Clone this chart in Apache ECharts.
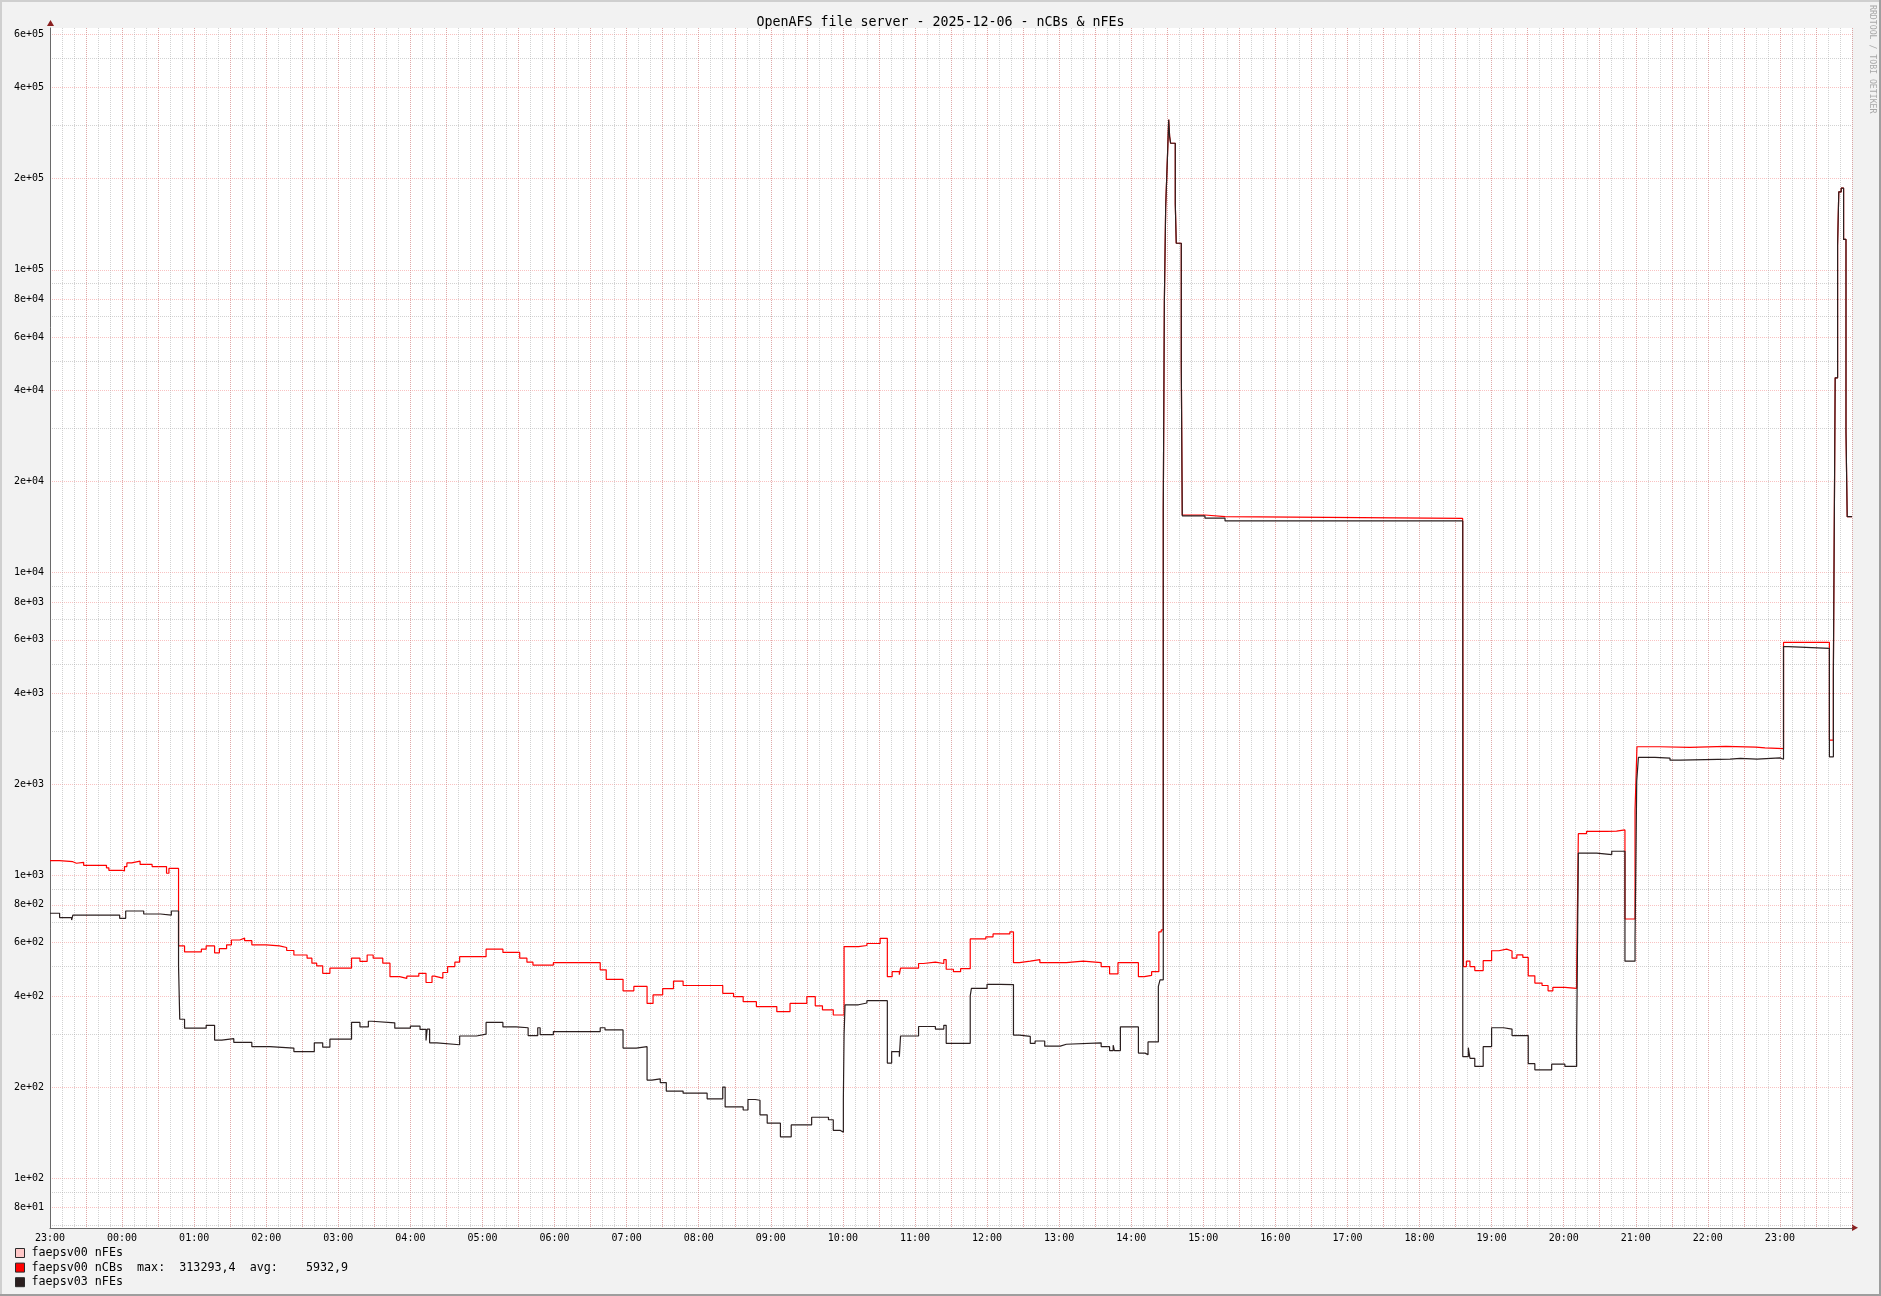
<!DOCTYPE html>
<html><head><meta charset="utf-8">
<script src="https://cdn.jsdelivr.net/npm/echarts@6/dist/echarts.min.js"></script>
<style>html,body{margin:0;padding:0;background:#f2f2f2}#c{width:1881px;height:1296px}</style>
</head><body><div id="c"></div>
<script>
const titleText = 'OpenAFS file server - 2025-12-06 - nCBs & nFEs';
const seriesNames = ['faepsv00 nFEs', 'faepsv00 nCBs', 'faepsv03 nFEs'];
const legendTexts = ['faepsv00 nFEs', 'faepsv00 nCBs  max:  313293,4  avg:    5932,9', 'faepsv03 nFEs'];
const seriesColors = ['#ffc8c8', '#ff0000', '#2b1f1f'];
const startHour = 23;           // x = minutes after 23:00 of the previous day
const xMax = 1500;
const yMin = 68.5, yMax = 629000;
const yMajor = [80, 100, 200, 400, 600, 800, 1000, 2000, 4000, 6000, 8000, 10000, 20000, 40000, 60000, 80000, 100000, 200000, 400000, 600000];
const yMinor = [70, 90, 300, 500, 700, 900, 3000, 5000, 7000, 9000, 30000, 50000, 70000, 90000, 300000, 500000];

// faepsv00 nFEs : no visible data
const fe00T = [];
const fe00V = [];

// faepsv00 nCBs
const cbT = [0,8,19,22,28,47,49,60,62,64,
68,75,85,97,99,107,112,126,130,137,
141,147,151,158,162,168,180,191,197,203,
214,218,222,227,233,251,258,264,269,277,
283,291,297,307,313,318,320,327,331,337,
341,363,377,391,397,402,419,458,463,477,
486,497,502,510,519,527,560,569,577,588,
605,616,630,637,643,652,661,673,680,691,
697,701,707,708,723,727,737,744,746,752,
758,766,779,785,799,802,807,816,824,846,
860,875,882,889,906,911,917,923,925,926.7,
927.6,928.7,930.3,931.2,932,932.8,936.7,937.5,941.7,942.5,
961.4,978.1,1175.9,1176.6,1179,1182,1186,1193,1200,1206,
1212.5,1217,1221,1226,1230.5,1236,1242,1247,1251,1261,
1270.8,1272.2,1279,1296,1304,1311,1319.4,1321,1340,1365,
1395,1420,1427.6,1443,1481.2,1484.5,1486,1488,1489,1491,
1493,1495,1496,1500];
const cbV = [1120,1110,1097,1105,1080,1060,1040,1035,1070,1100,
1115,1087,1070,1017,1055,585,559,571,585,555,
573,590,612,621,609,590,585,578,565,546,
533,513,503,475,494,533,520,546,533,513,
463,457,465,475,443,465,458,478,500,517,
539,571,557,533,517,506,515,488,454,416,
430,378,403,423,448,433,408,398,383,369,
355,378,398,371,360,346,582,587,596,620,
463,481,470,494,512,517,512,527,490,481,
492,617,627,641,651,515,521,527,515,521,
515,500,473,515,463,468,481,651,661,16100,
78500,161700,243800,313293,275400,261800,165100,122400,47900,15500,
15300,15100,13100,500,521,500,485,523,564,571,
563,533,547,536,466,441,433,416,427,424,
474,1374,1398,1400,1414,718,1646,2661,2650,2670,
2655,2640,2623,5880,2800,4800,44000,120000,181000,186000,
126000,29200,15300,15300];

// faepsv03 nFEs
const fe03T = [0,8,18,19,58,63,78,92,101,107,
108,112,130,137,143,153,168,183,203,220,
227,233,251,258,265,268,287,300,308,313,
314,316,322,341,355,363,377,388,398,406,
408,419,458,462,477,488,497,501,508,513,
527,547,560,562,577,581,587,591,597,608,
617,634,648,652,657.6,660.4,661,661.8,673,680,
697,700.6,707,708,723,737,744,746,759,760,
766,767,780,791,802,807,816,820,828,841,
846,875,882,885,886,891,906,911.5,914,922.6,
924,926.7,927.6,928.7,930.3,931.2,932,932.8,936.7,937.5,
941.7,942.5,961.4,978.1,1176,1180.6,1182,1186,1193,1200,
1210,1217,1230.5,1236,1250,1261,1270.8,1272.2,1287.5,1300,
1311,1319.4,1320.8,1322.2,1336,1348.5,1357,1398.5,1407,1421,
1440,1443,1447,1481.2,1484.5,1486,1488,1489,1491,1493,
1495,1496,1500];
const fe03V = [750,726,712,739,722,763,746,739,763,502,
335,313,320,286,289,281,272,269,262,280,
271,288,327,316,330,326,313,318,310,285,
311,280,276,295,299,327,316,314,296,314,
298,305,314,309,269,272,211,213,207,194,
191,183,200,172,168,182,181,162,152,137,
150,159,156,144,142,182,298,374,379,386,
240,262,252,295,317,311,320,279,282,279,
400,424,437,436,297,294,279,284,273,277,
280,272,264,275,264,316,259,256,282,430,
452,16100,78500,161700,243800,313293,275400,261800,165100,122400,
47900,15400,15130,14820,252,270,249,234,272,314,
311,296,239,228,238,234,290,1185,1171,1202,
521,622,2047,2453,2440,2403,2420,2435,2420,2445,
2420,5700,5620,2465,4557,44000,120000,181000,186000,126000,
29200,15300,15300];

const mono = 'DejaVu Sans Mono';
const zip = (t, v) => t.map((x, i) => [x, v[i]]);
const fmtY = v => Number(v).toExponential(0).replace(/e([+-])(\d)$/, (m, s, d) => 'e' + s + '0' + d);
const fmtX = m => { const h = (startHour + Math.round(m / 60)) % 24; return (h < 10 ? '0' : '') + h + ':00'; };

const gridGray = {color: 'rgba(165,165,165,0.5)', type: [1, 1], width: 1};
const gridRed = {color: 'rgba(240,110,110,0.42)', type: [1, 1], width: 1};
const axisCol = '#6a6a6a';

const chart = echarts.init(document.getElementById('c'), null, {renderer: 'canvas', width: 1881, height: 1296});
const mkSeries = (i, t, v) => ({
  name: seriesNames[i], type: 'line', step: 'end', data: zip(t, v),
  xAxisIndex: 0, yAxisIndex: 0, showSymbol: false, symbol: 'none',
  lineStyle: {color: seriesColors[i], width: 1.2}, itemStyle: {color: seriesColors[i]},
  emphasis: {disabled: true}, animation: false
});

chart.setOption({
  backgroundColor: '#f2f2f2',
  animation: false,
  title: {text: titleText, left: 'center', top: 11,
    textStyle: {fontFamily: mono, fontSize: 13.3, fontWeight: 'normal', color: '#000'}},
  grid: {left: 50, top: 28, width: 1802, height: 1200, show: true, backgroundColor: '#ffffff', borderWidth: 0},
  legend: {
    type: 'plain', orient: 'vertical', left: 15, top: 1247, padding: 0, height: 46,
    itemWidth: 9, itemHeight: 9, itemGap: 2.6,
    icon: 'rect', data: seriesNames, selectedMode: false,
    itemStyle: {borderColor: '#2a2a2a', borderWidth: 1},
    formatter: n => legendTexts[seriesNames.indexOf(n)],
    textStyle: {fontFamily: mono, fontSize: 11.7, color: '#000', lineHeight: 12, padding: [0, 0, 0, 2]}
  },
  xAxis: [
    {type: 'value', min: 0, max: xMax, interval: 10, axisLine: {show: false}, axisTick: {show: false},
      axisLabel: {show: false}, splitLine: {show: true, lineStyle: gridGray}},
    {type: 'value', min: 0, max: xMax, interval: 30, axisLine: {show: false}, axisTick: {show: false},
      axisLabel: {show: false}, splitLine: {show: true, lineStyle: gridRed}},
    {type: 'value', min: 0, max: xMax, interval: 60, position: 'bottom',
      axisLine: {show: true, lineStyle: {color: axisCol, width: 1}}, axisTick: {show: false},
      axisLabel: {formatter: fmtX, showMaxLabel: false, fontFamily: mono, fontSize: 10, color: '#000', margin: 5},
      splitLine: {show: false}}
  ],
  yAxis: [
    {type: 'log', logBase: 10, min: yMin, max: yMax, position: 'left',
      axisLine: {show: true, lineStyle: {color: axisCol, width: 1}},
      axisTick: {show: false, customValues: yMajor},
      axisLabel: {customValues: yMajor, formatter: fmtY, fontFamily: mono, fontSize: 10, color: '#000', margin: 6},
      splitLine: {show: true, lineStyle: gridRed}},
    {type: 'log', logBase: 10, min: yMin, max: yMax, position: 'left',
      axisLine: {show: false}, axisTick: {show: false, customValues: yMinor},
      axisLabel: {show: false, customValues: yMinor},
      splitLine: {show: true, lineStyle: gridGray}}
  ],
  series: [mkSeries(0, fe00T, fe00V), mkSeries(1, cbT, cbV), mkSeries(2, fe03T, fe03V)],
  graphic: [
    {type: 'rect', shape: {x: 0, y: 0, width: 1881, height: 2}, style: {fill: '#cfcfcf'}, silent: true},
    {type: 'rect', shape: {x: 0, y: 0, width: 2, height: 1296}, style: {fill: '#cfcfcf'}, silent: true},
    {type: 'rect', shape: {x: 1879, y: 0, width: 2, height: 1296}, style: {fill: '#9e9e9e'}, silent: true},
    {type: 'rect', shape: {x: 0, y: 1294, width: 1881, height: 2}, style: {fill: '#9e9e9e'}, silent: true},
    {type: 'polygon', shape: {points: [[1852, 1224.5], [1858, 1227.7], [1852, 1231]]}, style: {fill: '#8a2020'}, silent: true},
    {type: 'polygon', shape: {points: [[47, 26], [50.5, 20], [54, 26]]}, style: {fill: '#8a2020'}, silent: true},
    {type: 'text', x: 1876, y: 5, rotation: -Math.PI / 2,
      style: {text: 'RRDTOOL / TOBI OETIKER', fontFamily: mono, fontSize: 8.2, fill: '#a8a8a8', align: 'left', verticalAlign: 'top'}, silent: true}
  ]
});
</script></body></html>
